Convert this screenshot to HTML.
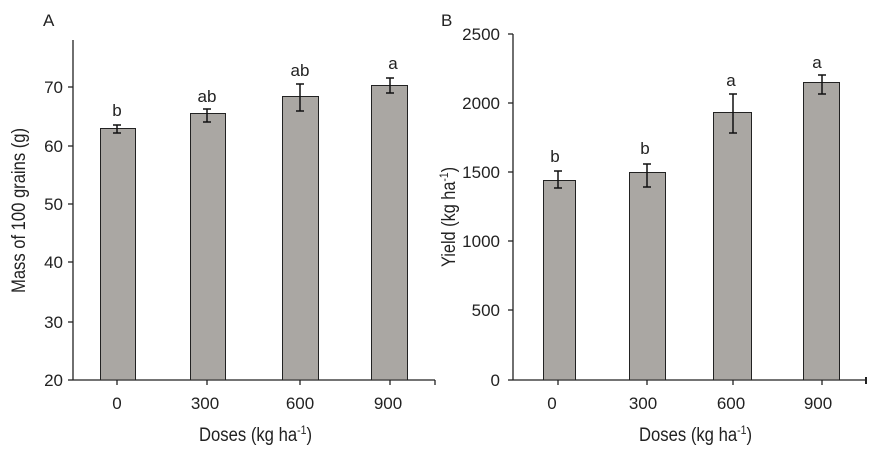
<!DOCTYPE html>
<html><head><meta charset="utf-8"><style>
html,body{margin:0;padding:0;background:#fff;}
svg text{font-family:"Liberation Sans Narrow","Liberation Sans",sans-serif;fill:#222;}
</style></head><body>
<svg width="882" height="454" viewBox="0 0 882 454" xmlns="http://www.w3.org/2000/svg">
<g font-size="17">
<text x="43" y="26" font-size="17">A</text>
<line x1="73" y1="40" x2="73" y2="380" stroke="#222" stroke-width="1.3"/>
<line x1="73" y1="380" x2="435" y2="380" stroke="#222" stroke-width="1.3"/>
<g stroke="#222" stroke-width="1.3">
<line x1="68" y1="87" x2="73" y2="87"/><line x1="68" y1="146" x2="73" y2="146"/>
<line x1="68" y1="204" x2="73" y2="204"/><line x1="68" y1="262" x2="73" y2="262"/>
<line x1="68" y1="322" x2="73" y2="322"/><line x1="68" y1="380" x2="73" y2="380"/>
<line x1="117" y1="380" x2="117" y2="385"/><line x1="207" y1="380" x2="207" y2="385"/>
<line x1="300" y1="380" x2="300" y2="385"/><line x1="390" y1="380" x2="390" y2="385"/>
<line x1="435" y1="380" x2="435" y2="385"/>
</g>
<g text-anchor="end">
<text x="63" y="93">70</text><text x="63" y="152">60</text><text x="63" y="210">50</text>
<text x="63" y="268">40</text><text x="63" y="328">30</text><text x="63" y="386">20</text>
</g>
<g fill="#aaa7a3" stroke="#222" stroke-width="1">
<rect x="100.5" y="128.5" width="35" height="251.5"/>
<rect x="190.5" y="113.5" width="35" height="266.5"/>
<rect x="282.5" y="96.5" width="36" height="283.5"/>
<rect x="371.5" y="85.5" width="36" height="294.5"/>
</g>
<g stroke="#111" stroke-width="1.5">
<line x1="117" y1="125" x2="117" y2="133"/><line x1="113" y1="125" x2="121" y2="125"/><line x1="113" y1="133" x2="121" y2="133"/>
<line x1="207" y1="109" x2="207" y2="122"/><line x1="203" y1="109" x2="211" y2="109"/><line x1="203" y1="122" x2="211" y2="122"/>
<line x1="300" y1="84" x2="300" y2="111"/><line x1="296" y1="84" x2="304" y2="84"/><line x1="296" y1="111" x2="304" y2="111"/>
<line x1="390" y1="78" x2="390" y2="93"/><line x1="386" y1="78" x2="394" y2="78"/><line x1="386" y1="93" x2="394" y2="93"/>
</g>
<g text-anchor="middle">
<text x="117" y="116">b</text><text x="207" y="102">ab</text><text x="300" y="76">ab</text><text x="393" y="69">a</text>
<text x="117" y="409">0</text><text x="205" y="409">300</text><text x="300" y="409">600</text><text x="388" y="409">900</text>
</g>
<text x="199" y="441" font-size="19" textLength="113" lengthAdjust="spacingAndGlyphs">Doses (kg ha<tspan font-size="12" dy="-7">-1</tspan><tspan dy="7">)</tspan></text>
<text transform="translate(25,293) rotate(-90)" font-size="19" textLength="165" lengthAdjust="spacingAndGlyphs">Mass of 100 grains (g)</text>
<text x="441" y="26">B</text>
<line x1="513" y1="34" x2="513" y2="380" stroke="#222" stroke-width="1.3"/>
<line x1="513" y1="380" x2="867" y2="380" stroke="#222" stroke-width="1.3"/>
<g stroke="#222" stroke-width="1.3">
<line x1="508" y1="34" x2="513" y2="34"/><line x1="508" y1="103" x2="513" y2="103"/>
<line x1="508" y1="172" x2="513" y2="172"/><line x1="508" y1="241" x2="513" y2="241"/>
<line x1="508" y1="310" x2="513" y2="310"/><line x1="508" y1="380" x2="513" y2="380"/>
<line x1="558" y1="380" x2="558" y2="385"/><line x1="647" y1="380" x2="647" y2="385"/>
<line x1="733" y1="380" x2="733" y2="385"/><line x1="822" y1="380" x2="822" y2="385"/>
<line x1="866" y1="377" x2="866" y2="384" stroke-width="2"/>
</g>
<g text-anchor="end">
<text x="500" y="40">2500</text><text x="500" y="109">2000</text><text x="500" y="178">1500</text>
<text x="500" y="247">1000</text><text x="500" y="316">500</text><text x="500" y="386">0</text>
</g>
<g fill="#aaa7a3" stroke="#222" stroke-width="1">
<rect x="543.5" y="180.5" width="32" height="199.5"/>
<rect x="629.5" y="172.5" width="36" height="207.5"/>
<rect x="713.5" y="112.5" width="38" height="267.5"/>
<rect x="803.5" y="82.5" width="36" height="297.5"/>
</g>
<g stroke="#111" stroke-width="1.5">
<line x1="558" y1="171" x2="558" y2="188"/><line x1="554" y1="171" x2="562" y2="171"/><line x1="554" y1="188" x2="562" y2="188"/>
<line x1="647" y1="164" x2="647" y2="187"/><line x1="643" y1="164" x2="651" y2="164"/><line x1="643" y1="187" x2="651" y2="187"/>
<line x1="733" y1="94" x2="733" y2="133"/><line x1="729" y1="94" x2="737" y2="94"/><line x1="729" y1="133" x2="737" y2="133"/>
<line x1="822" y1="75" x2="822" y2="94"/><line x1="818" y1="75" x2="826" y2="75"/><line x1="818" y1="94" x2="826" y2="94"/>
</g>
<g text-anchor="middle">
<text x="555" y="162">b</text><text x="645" y="154">b</text><text x="731" y="86">a</text><text x="817" y="68">a</text>
<text x="552" y="409">0</text><text x="643" y="409">300</text><text x="731" y="409">600</text><text x="818" y="409">900</text>
</g>
<text x="639" y="441" font-size="19" textLength="113" lengthAdjust="spacingAndGlyphs">Doses (kg ha<tspan font-size="12" dy="-7">-1</tspan><tspan dy="7">)</tspan></text>
<text transform="translate(455,267) rotate(-90)" font-size="19" textLength="100" lengthAdjust="spacingAndGlyphs">Yield (kg ha<tspan font-size="12" dy="-7">-1</tspan><tspan dy="7">)</tspan></text>
</g>
</svg>
</body></html>
